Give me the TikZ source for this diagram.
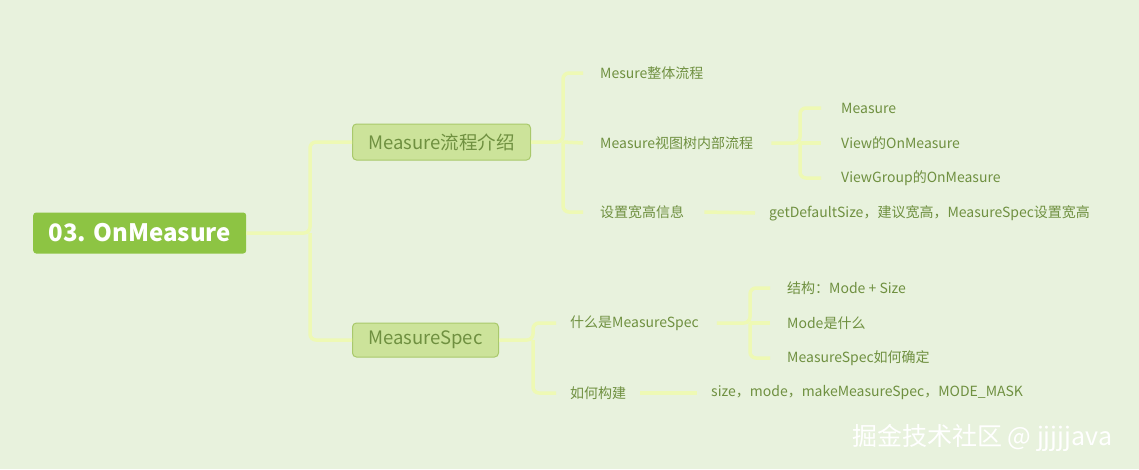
\documentclass[tikz,border=0pt]{standalone}
\usepackage{fontspec}
\setmainfont{Noto Sans CJK SC}
\definecolor{bg}{HTML}{E8F2DD}
\definecolor{ln}{HTML}{EEF9B4}
\definecolor{rootc}{HTML}{8DC443}
\definecolor{subf}{HTML}{CCE39A}
\definecolor{subd}{HTML}{A9C96B}
\definecolor{txt}{HTML}{6F9040}
\begin{document}
\begin{tikzpicture}[x=1pt,y=-1pt,
  conn/.style={draw=ln,line width=3.5pt,rounded corners=6pt},
  leaf/.style={anchor=west,text=txt,font=\fontsize{14}{16}\selectfont,inner sep=0pt},
  sub/.style={draw=subd,fill=subf,rounded corners=4pt,line width=1pt,text=txt,font=\fontsize{18.5}{20}\selectfont,minimum height=36pt,anchor=west,inner xsep=0pt}]
\fill[bg] (0,0) rectangle (1139,469);
\node[fill=rootc,rounded corners=3pt,text=white,font=\bfseries\fontsize{24}{26}\selectfont,minimum width=213pt,minimum height=41pt,anchor=west,inner sep=0pt] (root) at (33,233) {03. OnMeasure};
\node[sub,minimum width=178pt] (m1) at (352,142) {Measure流程介绍};
\node[sub,minimum width=146pt,minimum height=34pt] (m2) at (352,340) {MeasureSpec};
\node[leaf] (a1) at (600,73) {Mesure整体流程};
\node[leaf] (a2) at (600,143) {Measure视图树内部流程};
\node[leaf] (a3) at (600,212) {设置宽高信息};
\node[leaf] (b1) at (841,108) {Measure};
\node[leaf] (b2) at (841,143) {View的OnMeasure};
\node[leaf] (b3) at (841,178) {ViewGroup的OnMeasure};
\node[leaf] (c1) at (769,213) {getDefaultSize，建议宽高，MeasureSpec设置宽高};
\node[leaf] (d1) at (570,323) {什么是MeasureSpec};
\node[leaf] (d2) at (570,393) {如何构建};
\node[leaf] (e1) at (787,288) {结构：Mode + Size};
\node[leaf] (e2) at (787,323) {Mode是什么};
\node[leaf] (e3) at (787,358) {MeasureSpec如何确定};
\node[leaf] (f1) at (711,393) {size，mode，makeMeasureSpec，MODE\_MASK};
\node[anchor=west,text=white,font=\fontsize{25}{27}\selectfont,inner sep=0pt] (wm) at (852,438) {掘金技术社区 @ jjjjjava};
% connectors
\draw[conn] (root.east) -- (310,233) |- (m1.west);
\draw[conn] (310,233) |- (m2.west);
\draw[conn] (m1.east) -- (563,142) |- ([xshift=-17pt]a1.west);
\draw[conn] (563,142) |- ([xshift=-17pt]a3.west);
\draw[conn] (563,142) -- ([xshift=-17pt]a2.west);
\draw[conn] ([xshift=18pt]a2.east) -- (800,143) |- ([xshift=-20pt]b1.west);
\draw[conn] (800,143) |- ([xshift=-20pt]b3.west);
\draw[conn] (800,143) -- ([xshift=-20pt]b2.west);
\draw[conn] ([xshift=20pt]a3.east) -- ([xshift=-14pt]c1.west);
\draw[conn] (m2.east) -- (533,340) |- ([xshift=-14pt]d1.west);
\draw[conn] (533,340) |- ([xshift=-14pt]d2.west);
\draw[conn] ([xshift=18pt]d1.east) -- (750,323) |- ([xshift=-17pt]e1.west);
\draw[conn] (750,323) |- ([xshift=-17pt]e3.west);
\draw[conn] (750,323) -- ([xshift=-17pt]e2.west);
\draw[conn] ([xshift=14pt]d2.east) -- ([xshift=-14pt]f1.west);
\end{tikzpicture}
\end{document}
